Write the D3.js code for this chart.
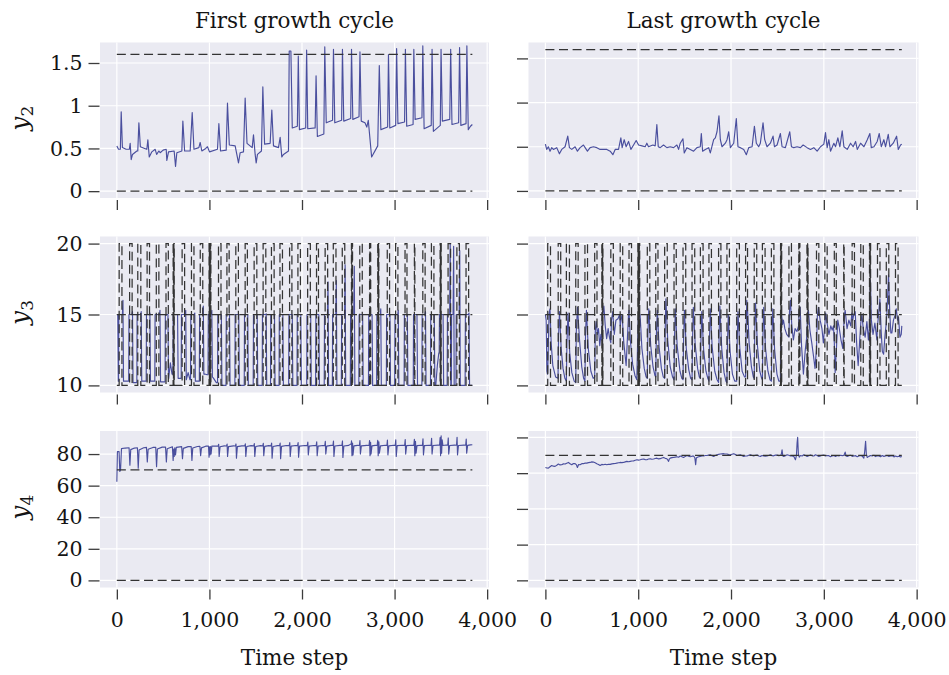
<!DOCTYPE html>
<html>
<head>
<meta charset="utf-8">
<script src="https://cdn.jsdelivr.net/npm/d3@7"></script>
<style>
  html, body { margin: 0; padding: 0; background: #ffffff; }
  svg { display: block; font-family: "DejaVu Serif", "Liberation Serif", serif; }
</style>
</head>
<body>
<script>
// ---------------------------------------------------------------
// Data: bioreactor-style state traces for the first and last
// growth cycle (time step vs. state value), with their bounds.
// ---------------------------------------------------------------
const T_END = 3840;

const columnTitles = ["First growth cycle", "Last growth cycle"];
const rowLabels = ["2", "3", "4"];          // subscripts of y
const xTicks = [0, 1000, 2000, 3000, 4000];
const y2Ticks = [0, 0.5, 1, 1.5];
const y3Ticks = [10, 15, 20];
const y4Ticks = [0, 20, 40, 60, 80];

// constant bounds
const y2Limits = [0, 1.6];
const y3Limits = [15];
const y4Limits = [0, 70];

// switching schedule of the y3 operating band (alternates low/high phase)
const boundSwitchTimes = [25, 55, 138, 165, 226, 259, 327, 353, 426, 454, 531, 556,
  608, 612, 616, 620, 705, 732, 806, 833, 901, 928,
  996, 1000, 1004, 1008, 1012, 1016, 1098, 1125, 1189, 1213, 1285, 1313,
  1386, 1410, 1483, 1512, 1580, 1609, 1670, 1699, 1762, 1789, 1866, 1891, 1956, 1983,
  2061, 2090, 2157, 2178, 2250, 2277, 2338, 2367, 2435, 2462,
  2534, 2538, 2542, 2546, 2624, 2651,
  2730, 2734, 2738, 2742, 2818, 2822, 2826, 2830,
  2921, 2946, 3011, 3036, 3113, 3134, 3214, 3219, 3305, 3330, 3398, 3425,
  3492, 3496, 3500, 3504, 3578, 3605, 3673, 3700, 3772, 3800];
const y3SwitchLevels = [10, 20];   // [low phase, high phase]
const y3Setpoint = 15;

// y2, first cycle
const y2First = [[0,0.53],[18,0.49],[38,0.49],[47,0.93],[60,0.51],[100,0.49],[135,0.49],[144,0.56],[155,0.37],[169,0.43],
  [216,0.47],[226,0.47],[238,0.80],[254,0.52],[300,0.50],[324,0.49],[335,0.60],[350,0.40],[378,0.46],[414,0.49],
  [430,0.43],[454,0.47],[468,0.45],[500,0.48],[533,0.49],[540,0.36],[558,0.46],[619,0.47],[634,0.29],[648,0.45],
  [702,0.47],[713,0.82],[732,0.47],[792,0.47],[814,0.92],[833,0.49],[886,0.51],[900,0.57],[918,0.47],[960,0.50],
  [979,0.52],[1001,0.46],[1087,0.49],[1102,0.79],[1120,0.47],[1181,0.48],[1195,1.03],[1215,0.54],[1278,0.53],[1296,0.43],
  [1314,0.33],[1332,0.45],[1368,0.46],[1386,1.09],[1406,0.56],[1462,0.51],[1476,0.66],[1494,0.43],[1505,0.33],[1519,0.43],
  [1562,0.47],[1577,1.22],[1596,0.55],[1656,0.56],[1674,0.95],[1692,0.53],[1746,0.51],[1764,0.63],[1782,0.40],[1800,0.43],
  [1854,0.47],[1862,1.64],[1880,1.64],[1895,0.74],[1950,0.76],[1960,1.58],[1972,0.72],[2040,0.74],[2050,1.65],[2062,0.73],
  [2142,0.74],[2152,1.35],[2166,0.64],[2236,0.67],[2246,1.69],[2262,0.80],[2330,0.83],[2340,1.66],[2354,0.80],[2428,0.83],
  [2437,1.66],[2451,0.82],[2526,0.85],[2535,1.66],[2549,0.84],[2616,0.87],[2626,1.63],[2640,0.82],[2680,0.80],[2700,0.75],
  [2716,0.83],[2752,0.40],[2818,0.53],[2835,1.47],[2852,0.72],[2925,0.75],[2934,1.60],[2948,0.74],[3012,0.77],[3022,1.67],
  [3036,0.79],[3108,0.81],[3117,1.66],[3131,0.76],[3200,0.78],[3208,1.66],[3222,0.84],[3296,0.86],[3305,1.70],[3319,0.73],
  [3396,0.77],[3405,1.66],[3419,0.70],[3494,0.77],[3502,1.66],[3516,0.82],[3596,0.84],[3606,1.66],[3620,0.78],[3692,0.80],
  [3702,1.68],[3716,0.77],[3772,0.79],[3781,1.70],[3796,0.72],[3820,0.76],[3840,0.78]];

// y2, last cycle
const y2Last = [[0,0.53],[14,0.47],[32,0.50],[50,0.45],[68,0.49],[86,0.47],[122,0.49],[151,0.42],[176,0.47],[212,0.50],
  [241,0.62],[259,0.49],[284,0.47],[320,0.50],[345,0.45],[374,0.49],[410,0.52],[428,0.49],[453,0.45],[482,0.49],
  [518,0.50],[554,0.49],[590,0.47],[626,0.47],[662,0.47],[698,0.45],[727,0.41],[752,0.47],[788,0.47],[813,0.60],
  [827,0.49],[849,0.58],[870,0.50],[896,0.56],[921,0.47],[950,0.52],[978,0.57],[1004,0.52],[1040,0.51],[1075,0.50],
  [1093,0.54],[1111,0.50],[1158,0.52],[1183,0.51],[1201,0.75],[1216,0.50],[1237,0.49],[1273,0.52],[1309,0.49],[1345,0.50],
  [1381,0.49],[1417,0.52],[1435,0.47],[1453,0.54],[1482,0.59],[1496,0.43],[1525,0.49],[1561,0.47],[1597,0.45],[1633,0.49],
  [1669,0.50],[1680,0.65],[1694,0.45],[1723,0.47],[1759,0.49],[1777,0.43],[1813,0.58],[1831,0.60],[1849,0.67],[1870,0.85],
  [1885,0.58],[1903,0.50],[1939,0.54],[1957,0.58],[1975,0.67],[1993,0.49],[2029,0.54],[2057,0.82],[2075,0.50],[2101,0.49],
  [2137,0.47],[2165,0.41],[2191,0.49],[2227,0.50],[2252,0.73],[2273,0.54],[2298,0.50],[2316,0.54],[2345,0.77],[2363,0.58],
  [2388,0.50],[2424,0.54],[2453,0.62],[2468,0.50],[2496,0.52],[2532,0.65],[2550,0.50],[2586,0.49],[2633,0.67],[2651,0.50],
  [2676,0.49],[2712,0.50],[2748,0.49],[2777,0.52],[2820,0.49],[2856,0.47],[2892,0.49],[2928,0.45],[2964,0.50],[3000,0.53],
  [3018,0.66],[3036,0.49],[3054,0.58],[3072,0.45],[3108,0.54],[3126,0.50],[3151,0.60],[3173,0.50],[3198,0.68],[3216,0.50],
  [3252,0.47],[3288,0.54],[3316,0.50],[3342,0.56],[3360,0.47],[3396,0.54],[3432,0.50],[3468,0.58],[3496,0.65],[3511,0.49],
  [3540,0.50],[3575,0.56],[3597,0.65],[3619,0.50],[3647,0.58],[3665,0.50],[3694,0.64],[3712,0.50],[3748,0.54],[3784,0.62],
  [3802,0.47],[3827,0.52],[3840,0.53]];

// y3, first cycle: opening values, pulses [rise, fall, value before fall, level after], and extra samples
const y3FirstStart = [[0,15],[10,15],[16,10.3]];
const y3FirstPulses = [[18,68,16.0,10.3],[128,171,15.2,10.2],[216,265,15.2,10.3],[317,359,15.1,10.3],[410,468,15.3,10.25],
  [521,554,15.0,10.5],[606,658,15.0,10.5],[695,746,15.3,10.4],[796,844,15.1,10.3],[891,936,15.6,10.8],
  [985,1028,15.3,10.6],[1088,1131,15.0,10.0],[1179,1219,15.0,10.0],[1275,1319,15.0,10.0],[1376,1416,15.0,10.0],
  [1473,1518,15.0,10.0],[1570,1615,15.05,10.0],[1660,1705,15.0,10.0],[1752,1795,15.0,10.0],[1856,1897,15.0,10.0],
  [1946,1989,15.0,10.0],[2051,2096,15.0,10.0],[2147,2184,15.0,10.0],[2240,2283,17.3,10.0],[2328,2373,17.4,10.0],
  [2425,2468,18.5,10.0],[2522,2567,18.4,10.0],[2614,2657,15.0,10.0],[2718,2759,15.0,10.0],[2806,2853,15.4,10.0],
  [2911,2952,15.0,10.0],[3001,3042,15.3,10.0],[3103,3140,15.0,10.0],[3202,3244,15.0,10.0],[3295,3336,15.2,10.0],
  [3388,3431,15.0,10.0],[3482,3526,15.0,10.0],[3568,3603,20.0,10.0],[3613,3640,19.8,10.0],[3663,3706,19.5,10.0],
  [3762,3806,15.1,10.0]];
const y3FirstExtra = [[560,10.5],[578,11.6],[596,10.8],[770,10.9],[790,10.4],[950,10.8],[975,10.75],
  [1045,10.5],[1075,10.2],[3445,10.0],[3462,11.4],[3478,12.3],[3840,10.0]];

// y3, last cycle
const y3Last = [[0,15.0],[8,14.6],[16,11.0],[22,10.8],
  [25,10.9],[40,15.1],[50,15.4],[62,13.0],[80,11.4],[110,10.6],[136,10.5],
  [142,13.5],[152,15.2],[170,12.6],[190,11.2],[210,10.5],[226,10.3],
  [232,13.0],[244,15.1],[262,12.3],[285,10.9],[310,10.3],[327,10.2],
  [333,13.8],[346,15.5],[368,13.2],[392,11.3],[412,10.5],[426,10.3],
  [432,13.5],[442,15.3],[462,12.6],[490,11.0],[515,10.5],[531,10.6],
  [538,13.9],[548,14.5],[560,13.6],[572,14.0],[586,12.8],[598,13.6],[605,13.2],
  [615,14.8],[630,15.6],[645,14.2],[660,13.3],[676,14.0],[690,13.4],[705,13.0],
  [712,14.6],[726,15.2],[742,13.6],[760,14.6],[782,14.7],[800,15.0],[806,14.2],
  [814,14.6],[826,15.0],[845,13.0],[870,11.4],[895,14.9],[901,15.3],[915,13.2],[940,11.5],[965,10.7],[985,10.4],
  [993,12.8],[1000,14.6],[1008,15.1],[1015,14.2],[1020,15.0],[1040,12.6],[1065,11.2],[1085,10.6],[1098,10.5],
  [1104,13.6],[1114,15.4],[1135,12.8],[1160,11.3],[1180,10.7],[1189,10.6],
  [1195,13.4],[1206,15.3],[1225,12.7],[1250,11.2],[1270,10.6],[1285,10.5],
  [1290,13.6],[1298,16.1],[1318,13.2],[1345,11.3],[1370,10.6],[1386,10.4],
  [1392,13.5],[1400,15.4],[1420,12.8],[1450,11.0],[1470,10.5],[1483,10.4],
  [1489,13.2],[1498,15.3],[1518,12.6],[1545,11.1],[1565,10.5],[1580,10.4],
  [1586,13.4],[1594,15.5],[1614,12.9],[1640,11.2],[1658,10.6],[1670,10.5],
  [1676,13.2],[1685,15.2],[1705,12.5],[1730,11.0],[1750,10.5],[1762,10.3],
  [1768,13.3],[1777,15.4],[1797,12.7],[1825,11.0],[1850,10.4],[1866,10.2],
  [1871,13.5],[1880,15.6],[1900,12.6],[1925,10.9],[1945,10.3],[1956,10.2],
  [1962,13.0],[1971,15.0],[1990,12.4],[2015,10.8],[2040,10.3],[2061,10.3],
  [2067,13.2],[2075,15.2],[2095,12.6],[2120,11.0],[2145,10.6],[2157,10.6],
  [2162,13.6],[2170,16.0],[2182,14.9],[2195,13.0],[2220,11.3],[2240,10.6],[2250,10.5],
  [2256,13.8],[2264,15.8],[2285,12.8],[2310,11.0],[2330,10.5],[2338,10.4],
  [2344,13.5],[2352,15.5],[2372,12.6],[2398,11.0],[2420,10.4],[2435,10.3],
  [2441,13.4],[2450,15.4],[2470,12.5],[2495,10.8],[2515,10.3],[2532,10.3],
  [2537,14.2],[2545,15.0],[2555,14.3],[2565,14.6],[2580,14.0],[2600,13.6],[2624,13.4],
  [2630,15.2],[2640,16.0],[2655,14.2],[2672,13.2],[2690,14.0],[2710,13.8],[2728,14.2],
  [2735,15.3],[2745,15.5],[2760,12.8],[2780,10.8],[2800,12.5],[2816,13.4],
  [2822,14.6],[2834,15.3],[2850,13.9],[2870,13.0],[2890,12.0],[2905,11.2],[2921,12.6],
  [2930,14.9],[2942,15.5],[2960,14.6],[2980,14.0],[2995,13.0],[3011,14.3],
  [3020,15.1],[3035,14.4],[3055,13.6],[3075,14.2],[3090,13.9],[3104,14.2],[3113,13.0],[3122,10.9],[3135,12.5],
  [3150,14.6],[3165,14.1],[3185,13.2],[3205,12.6],[3212,13.8],
  [3222,15.0],[3230,15.3],[3250,14.0],[3270,14.6],[3290,14.2],[3302,15.1],[3312,14.6],
  [3322,15.0],[3338,15.2],[3355,12.8],[3370,11.4],[3385,13.0],[3398,14.4],
  [3410,15.0],[3425,14.0],[3445,13.4],[3464,14.5],[3480,13.2],[3490,14.0],
  [3496,16.0],[3502,17.4],[3512,14.6],[3530,13.6],[3550,14.4],[3572,13.2],[3578,14.2],
  [3590,15.0],[3604,16.1],[3618,13.8],[3630,12.4],[3644,12.2],[3660,13.6],[3673,14.4],
  [3682,15.4],[3697,17.8],[3710,15.2],[3722,13.7],[3733,13.7],[3750,14.6],[3760,14.8],[3772,15.0],
  [3780,15.4],[3795,14.6],[3805,14.8],[3820,13.4],[3834,13.6],[3840,14.2]];

// y4, first cycle
const y4First = [[0,62.5],[6,81.5],[24,81.5],[32,69.0],[40,70.0],[50,83.4],[90,83.8],[132,84.0],
  [141,73.0],[150,82.8],[190,83.8],[222,84.0],[231,71.0],[240,82.6],[290,84.0],[320,84.2],
  [329,75.0],[338,83.0],[390,84.2],[420,84.3],[429,72.0],[438,83.2],[490,84.4],[526,84.4],
  [535,75.0],[544,83.4],[600,84.6],[608,76.0],[615,83.2],[620,78.5],[626,84.0],[634,79.5],[642,84.2],[700,84.7],
  [709,77.0],[718,83.6],[770,84.7],[803,84.8],[811,76.0],[820,83.8],[870,84.8],[897,84.9],
  [905,79.0],[914,83.9],[960,85.0],[990,85.0],[996,78.0],[1001,84.6],[1006,79.5],[1012,84.8],[1018,80.0],[1026,85.0],[1080,85.1],
  [1094,85.0],[1100,86.2],[1105,78.5],[1115,84.6],[1160,85.2],[1185,85.1],
  [1191,86.3],[1196,78.5],[1206,84.7],[1260,85.2],[1281,85.1],[1287,86.4],[1292,77.4],[1302,84.7],[1350,85.2],[1382,85.2],
  [1388,86.5],[1393,78.5],[1403,84.8],[1450,85.3],[1479,85.2],[1485,86.6],[1490,78.5],[1500,84.8],[1550,85.3],[1576,85.2],
  [1582,86.8],[1587,79.0],[1597,84.9],[1640,85.3],[1666,85.2],[1672,87.0],[1677,77.4],[1687,84.8],[1735,85.3],[1758,85.3],
  [1764,87.0],[1769,77.0],[1779,84.9],[1830,85.4],[1862,85.3],[1868,87.2],[1873,78.5],[1883,85.0],[1930,85.4],[1952,85.3],
  [1958,87.3],[1963,78.0],[1973,85.0],[2030,85.4],[2057,85.3],[2063,87.6],[2068,79.5],[2078,85.0],[2130,85.4],[2153,85.3],
  [2159,87.8],[2164,79.0],[2174,85.0],[2225,85.4],[2246,85.3],[2252,88.0],[2257,80.0],[2267,85.0],[2315,85.5],[2334,85.4],
  [2340,88.2],[2345,78.5],[2355,85.1],[2410,85.5],[2431,85.4],[2437,88.3],[2442,77.8],[2452,85.1],[2505,85.5],
  [2532,86.5],[2535,88.4],[2540,79.0],[2546,87.0],[2551,79.5],[2561,85.2],[2600,85.5],[2620,85.4],
  [2626,88.5],[2631,80.0],[2641,85.2],[2700,85.5],[2724,85.4],
  [2730,88.6],[2735,79.0],[2741,87.5],[2746,80.0],[2756,85.2],[2790,85.5],[2812,85.4],
  [2818,88.7],[2823,79.0],[2830,87.8],[2836,80.5],[2848,85.2],[2900,85.6],[2917,85.4],
  [2923,88.8],[2928,79.5],[2938,85.2],[2990,85.6],[3007,85.5],[3013,89.0],[3018,78.5],[3028,85.3],[3090,85.6],[3109,85.5],
  [3115,89.2],[3120,80.0],[3130,85.3],[3190,85.6],[3208,85.5],
  [3214,89.4],[3219,79.0],[3226,88.0],[3232,80.5],[3242,85.3],[3285,85.6],[3301,85.5],
  [3307,89.6],[3312,79.5],[3322,85.3],[3375,85.6],[3394,85.5],[3400,90.0],[3405,80.0],[3415,85.4],[3470,85.7],[3486,85.6],
  [3492,90.5],[3497,79.0],[3503,91.5],[3508,80.5],[3514,89.0],[3522,85.4],[3560,85.7],[3574,85.6],
  [3580,90.2],[3585,80.0],[3595,85.4],[3650,85.7],[3669,85.6],[3675,90.6],[3680,79.5],[3690,85.4],[3750,85.7],[3768,85.6],
  [3774,89.5],[3779,80.5],[3789,85.5],[3820,85.8],[3840,85.9]];

// y4, last cycle
const y4Last = [[0,63.2],[16,62.9],[32,62.8],[50,63.6],[68,64.3],[86,63.9],[104,63.8],[122,64.4],[140,65.1],[158,64.6],
  [176,64.7],[194,65.2],[212,65.1],[230,65.6],[248,66.0],[266,65.3],[284,64.7],[302,65.4],[320,65.3],[335,64.6],
  [345,63.2],[358,64.8],[374,64.7],[392,65.3],[410,65.3],[428,65.6],[446,65.6],[464,65.9],[482,66.0],[500,66.3],
  [518,66.2],[536,65.8],[554,65.3],[572,64.9],[590,64.3],[608,64.9],[626,64.7],[644,65.0],[662,64.7],[680,65.0],
  [698,64.9],[716,65.2],[734,65.3],[752,65.4],[770,65.6],[788,65.8],[806,66.0],[824,65.9],[842,66.0],[860,66.3],
  [878,66.6],[896,66.4],[914,66.6],[932,66.8],[950,66.9],[968,67.2],[986,67.5],[1004,67.3],[1022,67.5],[1040,67.8],
  [1058,67.9],[1076,67.6],[1093,67.5],[1111,67.9],[1129,68.1],[1147,67.8],[1165,67.9],[1183,68.2],[1201,68.4],[1219,68.0],
  [1237,68.1],[1255,68.5],[1273,68.8],[1291,68.3],[1309,68.1],[1320,67.2],[1327,66.6],[1335,67.9],[1345,68.4],[1363,68.7],
  [1381,68.8],[1399,69.0],[1417,69.2],[1435,68.9],[1453,69.6],[1471,69.2],[1489,68.8],[1507,69.4],[1525,69.9],[1543,69.5],
  [1561,69.2],[1579,69.5],[1597,69.6],[1610,68.6],[1619,64.7],[1626,68.5],[1633,68.8],[1651,69.2],[1669,69.4],[1687,69.6],
  [1705,69.6],[1723,69.9],[1741,69.9],[1759,70.1],[1777,70.3],[1795,69.8],[1813,69.4],[1831,69.9],[1849,70.3],[1867,70.5],
  [1885,70.7],[1903,70.8],[1921,70.9],[1939,70.7],[1957,70.7],[1975,70.4],[1993,70.3],[2011,70.6],[2029,70.9],[2047,70.4],
  [2065,69.9],[2083,70.1],[2101,70.3],[2119,69.8],[2137,69.4],[2155,69.6],[2173,69.6],[2191,70.0],[2209,70.3],[2227,69.9],
  [2245,69.7],[2263,70.0],[2281,70.1],[2299,69.6],[2317,69.4],[2335,69.9],[2352,69.7],[2370,69.5],[2388,69.6],[2406,69.9],
  [2424,70.3],[2442,69.8],[2460,69.7],[2478,70.1],[2496,70.1],[2514,69.8],[2532,69.9],[2542,70.6],[2550,73.1],[2558,69.6],
  [2568,69.4],[2586,69.8],[2604,70.3],[2622,70.0],[2640,69.7],[2658,69.6],[2676,69.4],[2694,67.5],[2705,70.0],[2712,77.0],
  [2718,80.0],[2726,70.5],[2735,69.0],[2748,69.9],[2766,69.6],[2784,70.3],[2802,69.9],[2820,69.4],[2838,69.8],[2856,70.2],
  [2874,69.7],[2892,69.6],[2910,70.3],[2928,69.9],[2946,69.4],[2964,69.7],[2982,70.0],[3000,70.1],[3018,69.6],[3036,69.9],
  [3054,69.8],[3072,69.2],[3090,69.7],[3108,69.9],[3126,69.4],[3144,69.9],[3162,69.7],[3180,70.0],[3198,69.8],[3216,69.9],
  [3230,71.8],[3240,69.6],[3252,69.4],[3270,69.8],[3288,70.0],[3306,69.4],[3324,69.6],[3342,69.8],[3360,69.2],[3378,69.6],
  [3396,69.9],[3414,69.5],[3431,68.4],[3440,72.0],[3450,77.8],[3458,70.5],[3467,68.8],[3485,69.4],[3503,69.9],[3521,69.6],
  [3539,70.0],[3557,69.3],[3575,69.8],[3593,69.6],[3611,69.2],[3629,69.9],[3647,69.4],[3665,69.7],[3683,69.9],[3701,69.3],
  [3719,69.6],[3737,69.8],[3755,69.1],[3773,69.6],[3791,69.2],[3809,69.5],[3827,69.1],[3840,69.3]];

// ---------------------------------------------------------------
// Series builders
// ---------------------------------------------------------------
function constantSeries(v) { return [[0, v], [T_END, v]]; }

// two-level step line following the switch schedule
function stepSeries(switches, levels) {
  const pts = [[0, levels[0]]];
  let phase = 0;
  switches.forEach(t => {
    pts.push([t, levels[phase]]);
    phase = 1 - phase;
    pts.push([t, levels[phase]]);
  });
  pts.push([T_END, levels[phase]]);
  return pts;
}

// pulse train: each pulse climbs to the setpoint, holds, then drops to its resting level
function pulseSeries(start, pulses, extra, setpoint) {
  let pts = start.concat(extra);
  pulses.forEach(([tu, td, last, rest]) => {
    pts.push([tu + 3, setpoint]);
    if (last !== setpoint) pts.push([td - 8, setpoint]);
    pts.push([td - 2, last], [td + 4, rest]);
  });
  pts.sort((a, b) => a[0] - b[0]);
  const holds = pulses.map(([tu]) => {
    const before = pts.filter(p => p[0] < tu);
    return [tu, before[before.length - 1][1]];
  });
  pts = pts.concat(holds).sort((a, b) => a[0] - b[0]);
  return pts;
}

const y3First = pulseSeries(y3FirstStart, y3FirstPulses, y3FirstExtra, y3Setpoint);
const y2Bounds = y2Limits.map(constantSeries);
const y3Bounds = y3Limits.map(constantSeries).concat([stepSeries(boundSwitchTimes, y3SwitchLevels)]);
const y4Bounds = y4Limits.map(constantSeries);

// ---------------------------------------------------------------
// Layout
// ---------------------------------------------------------------
const W = 949, H = 675;
const cols = [{ x0: 100, x1: 489 }, { x0: 528.5, x1: 918.5 }];
const rows = [{ y0: 42.5, y1: 198 }, { y0: 236.5, y1: 392.5 }, { y0: 431, y1: 587.5 }];
const xDomain = [-182, 4020];

const BG = "#eaeaf2", GRID = "#ffffff", LINE = "#4a4f9e", DASH = "#333333", TICK = "#3c3c3c", TEXT = "#141414";

const panels = [
  { r: 0, c: 0, dom: [-0.08, 1.74], ticks: y2Ticks, data: y2First, bounds: y2Bounds },
  { r: 0, c: 1, dom: [-0.08, 1.68], ticks: y2Ticks, data: y2Last, bounds: y2Bounds },
  { r: 1, c: 0, dom: [9.5, 20.5], ticks: y3Ticks, data: y3First, bounds: y3Bounds },
  { r: 1, c: 1, dom: [9.5, 20.5], ticks: y3Ticks, data: y3Last, bounds: y3Bounds },
  { r: 2, c: 0, dom: [-4.5, 94.6], ticks: y4Ticks, data: y4First, bounds: y4Bounds },
  { r: 2, c: 1, dom: [-4.0, 83.6], ticks: y4Ticks, data: y4Last, bounds: y4Bounds }
];

const svg = d3.select("body").append("svg")
  .attr("width", W).attr("height", H)
  .attr("viewBox", `0 0 ${W} ${H}`);
svg.append("rect").attr("width", W).attr("height", H).attr("fill", "#ffffff");

const fmtX = d3.format(",");

panels.forEach(p => {
  const col = cols[p.c], row = rows[p.r];
  const x = d3.scaleLinear().domain(xDomain).range([col.x0, col.x1]);
  const y = d3.scaleLinear().domain(p.dom).range([row.y1, row.y0]);
  const g = svg.append("g");

  g.append("rect")
    .attr("x", col.x0).attr("y", row.y0)
    .attr("width", col.x1 - col.x0).attr("height", row.y1 - row.y0)
    .attr("fill", BG);

  // grid
  g.selectAll(".gx").data(xTicks).join("line")
    .attr("x1", d => x(d)).attr("x2", d => x(d))
    .attr("y1", row.y0).attr("y2", row.y1)
    .attr("stroke", GRID).attr("stroke-width", 1.2);
  g.selectAll(".gy").data(p.ticks).join("line")
    .attr("x1", col.x0).attr("x2", col.x1)
    .attr("y1", d => y(d)).attr("y2", d => y(d))
    .attr("stroke", GRID).attr("stroke-width", 1.2);

  // axes: outward ticks, labels on the left column / bottom row only
  const yAxis = d3.axisLeft(y).tickValues(p.ticks).tickSize(11).tickPadding(6)
    .tickFormat(p.c === 0 ? (d => String(d)) : () => "");
  const ya = g.append("g").attr("transform", `translate(${col.x0 - 0.5},0)`).call(yAxis);
  const xAxis = d3.axisBottom(x).tickValues(xTicks).tickSize(10).tickPadding(13)
    .tickFormat(p.r === 2 ? fmtX : () => "");
  const xa = g.append("g").attr("transform", `translate(0,${row.y1 + 2})`).call(xAxis);
  [ya, xa].forEach(a => {
    a.select(".domain").remove();
    a.selectAll(".tick line").attr("stroke", TICK).attr("stroke-width", 1.3);
    a.selectAll(".tick text").attr("fill", TEXT).style("font-size", "20.5px")
      .style("font-family", '"DejaVu Serif", serif');
  });

  const line = d3.line().x(d => x(d[0])).y(d => y(d[1]));

  g.append("path").datum(p.data)
    .attr("d", line).attr("fill", "none")
    .attr("stroke", LINE).attr("stroke-width", 1.15).attr("stroke-linejoin", "round");

  p.bounds.forEach(b => {
    g.append("path").datum(b)
      .attr("d", line).attr("fill", "none")
      .attr("stroke", DASH).attr("stroke-width", 1.25)
      .attr("stroke-dasharray", "9,4.6");
  });
});

// column titles and x-axis titles
columnTitles.forEach((t, i) => {
  svg.append("text")
    .attr("x", (cols[i].x0 + cols[i].x1) / 2).attr("y", 27.5)
    .attr("text-anchor", "middle").attr("fill", TEXT)
    .style("font-size", "21.5px").text(t);
  svg.append("text")
    .attr("x", (cols[i].x0 + cols[i].x1) / 2).attr("y", 665)
    .attr("text-anchor", "middle").attr("fill", TEXT)
    .style("font-size", "21.5px").text("Time step");
});

// row labels y_2, y_3, y_4
rowLabels.forEach((s, i) => {
  const cy = (rows[i].y0 + rows[i].y1) / 2 - 2;
  const t = svg.append("text")
    .attr("transform", `translate(28,${cy}) rotate(-90)`)
    .attr("text-anchor", "middle").attr("fill", TEXT)
    .style("font-size", "25px");
  t.append("tspan").style("font-style", "italic").text("y");
  t.append("tspan").attr("dy", 5).style("font-size", "17px").text(s);
});
</script>
</body>
</html>
